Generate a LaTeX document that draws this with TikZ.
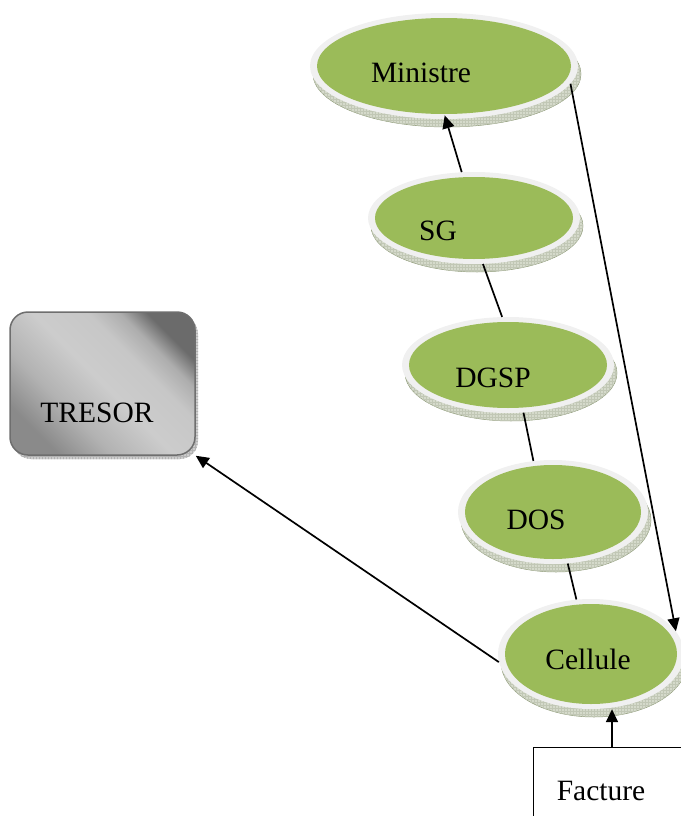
\documentclass[tikz,border=0pt]{standalone}
\usepackage{fontspec}
\setmainfont{Liberation Serif}
\usetikzlibrary{shapes.geometric,arrows.meta,patterns}

\definecolor{discgreen}{HTML}{9BBB59}
\definecolor{discring}{HTML}{F0F0F0}
\definecolor{discshadow}{HTML}{D5DACB}
\definecolor{hatch}{HTML}{8E9A78}
\definecolor{boxedge}{HTML}{6E6E6E}

% diagonal grey gradient of the TRESOR box
\pgfdeclarehorizontalshading{tresorgrad}{100bp}{%
  color(0bp)=(black!46); color(25bp)=(black!46); color(37bp)=(black!30);
  color(50bp)=(black!20); color(62bp)=(black!22); color(69bp)=(black!32);
  color(75bp)=(black!58); color(100bp)=(black!58)}

% \disc{name}{cx}{cy}{rx}{ry}{label}{label x}{label baseline y}
\newcommand\disc[8]{%
  \fill[discshadow, draw=hatch, line width=0.5pt]
    (#2+3,#3+8) ellipse [x radius=#4, y radius=#5];
  \fill[pattern=grid, pattern color=hatch!55]
    (#2+3,#3+8) ellipse [x radius=#4, y radius=#5];
  \node[ring, minimum width=2*#4pt, minimum height=2*#5pt] (#1) at (#2,#3) {};
  \fill[discgreen] (#2,#3) ellipse [x radius=#4-7, y radius=#5-5];
  \node[lbl] (#1-label) at (#7,#8) {#6};
}

\begin{document}
\begin{tikzpicture}[x=1pt, y=-1pt,
  ring/.style={ellipse, fill=discring, inner sep=0pt},
  lbl/.style={anchor=base, inner sep=0pt, font=\fontsize{29.5}{34}\selectfont},
  link/.style={draw=black, line width=1.7pt},
  arr/.style={link, -{Triangle[length=13pt,width=12pt]}}]
\useasboundingbox (0,0) rectangle (680,816);

% hierarchy of offices
\disc{ministre}{444}{66}{134}{53}{Ministre}{421}{82}
\disc{sg}{474}{218}{106}{46}{SG}{438}{240}
\disc{dgsp}{508}{365}{106}{48}{DGSP}{493}{387}
\disc{dos}{553}{512}{95}{52}{DOS}{536}{529}
\disc{cellule}{591}{654}{93}{55}{Cellule}{588}{669}

% TRESOR box with its drop shadow
\fill[black!20, rounded corners=18pt] (13,316) rectangle (198,459);
\fill[pattern=grid, pattern color=black!30, rounded corners=18pt] (13,316) rectangle (198,459);
\node[shade, shading=tresorgrad, shading angle=45, draw=boxedge, line width=1.5pt,
      rounded corners=18pt, minimum width=185pt, minimum height=143pt, inner sep=0pt]
  (tresor) at (102.5,383.5) {};
\node[lbl] (tresor-label) at (97,422) {TRESOR};

% Facture box
\node[draw=black, line width=1.4pt, anchor=north west, minimum width=190pt,
      minimum height=110pt, inner sep=0pt] (facture) at (533,747) {};
\node[lbl] (facture-label) at (601,800) {Facture};
\coordinate (fup) at ([xshift=79pt]facture.north west);

% connectors
\draw[arr, shorten >=-4pt] (sg.105.6) -- (ministre.-88.8);
\draw[link] (sg.-79.6) -- (dgsp.97.6);
\draw[link] (dgsp.-72.6) -- (dos.111.8);
\draw[link] (dos.-74.2) -- (cellule.105);
\draw[arr] (ministre.-8.5) -- (cellule.15.1);
\draw[arr] (cellule.185.2) -- (tresor.south east);
\draw[arr] (fup) -- (fup |- cellule.south);
\end{tikzpicture}
\end{document}
